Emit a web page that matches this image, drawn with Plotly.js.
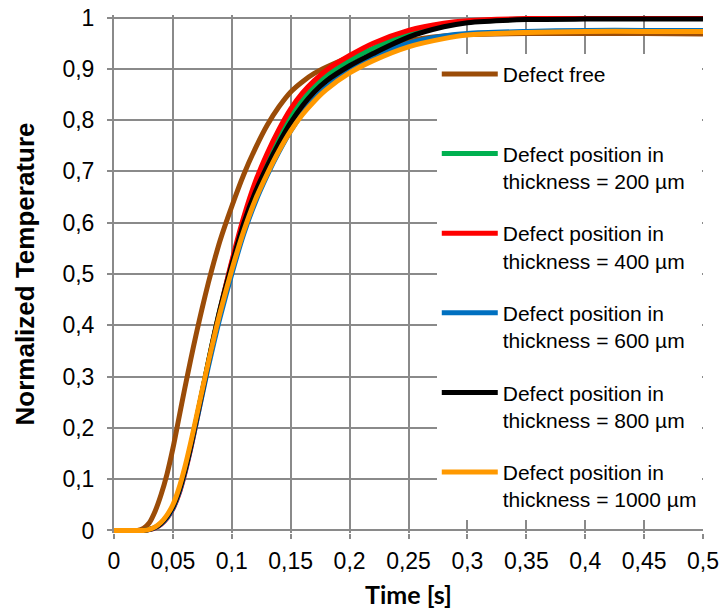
<!DOCTYPE html>
<html>
<head>
<meta charset="utf-8">
<script src="https://cdn.plot.ly/plotly-3.0.1.min.js"></script>
<style>html,body{margin:0;padding:0;background:#fff;}#chart{width:721px;height:613px;}</style>
</head>
<body>
<div id="chart"></div>
<script>
const time = [0, 0.01, 0.02, 0.025, 0.03, 0.035, 0.04, 0.045, 0.05, 0.055, 0.06, 0.065, 0.07, 0.075, 0.08, 0.085, 0.09, 0.1, 0.11, 0.12, 0.13, 0.14, 0.15, 0.16, 0.17, 0.18, 0.2, 0.22, 0.25, 0.28, 0.3, 0.35, 0.4, 0.45, 0.5];

const defectFree = [0, 0, 0, 0.004, 0.015, 0.038, 0.07, 0.11, 0.16, 0.218, 0.276, 0.332, 0.385, 0.435, 0.482, 0.525, 0.565, 0.632, 0.693, 0.745, 0.79, 0.826, 0.855, 0.875, 0.891, 0.903, 0.923, 0.938, 0.955, 0.964, 0.967, 0.969, 0.969, 0.969, 0.968];
const defect200 = [0, 0, 0, 0, 0.002, 0.006, 0.014, 0.027, 0.045, 0.074, 0.114, 0.162, 0.216, 0.272, 0.328, 0.382, 0.432, 0.522, 0.603, 0.668, 0.72, 0.766, 0.806, 0.839, 0.865, 0.886, 0.916, 0.94, 0.968, 0.986, 0.992, 0.997, 0.998, 0.998, 0.998];
const defect400 = [0, 0, 0, 0, 0.0015, 0.005, 0.012, 0.024, 0.042, 0.07, 0.11, 0.158, 0.212, 0.268, 0.325, 0.38, 0.43, 0.525, 0.61, 0.68, 0.735, 0.782, 0.822, 0.853, 0.877, 0.897, 0.926, 0.95, 0.975, 0.989, 0.994, 0.998, 0.998, 0.998, 0.998];
const defect600 = [0, 0, 0, 0, 0.0015, 0.005, 0.013, 0.025, 0.043, 0.072, 0.112, 0.16, 0.212, 0.265, 0.318, 0.368, 0.415, 0.5, 0.577, 0.64, 0.692, 0.738, 0.779, 0.813, 0.841, 0.864, 0.898, 0.922, 0.95, 0.964, 0.969, 0.973, 0.975, 0.975, 0.975];
const defect800 = [0, 0, 0, 0, 0.002, 0.006, 0.014, 0.027, 0.046, 0.075, 0.115, 0.163, 0.217, 0.272, 0.327, 0.38, 0.43, 0.518, 0.598, 0.66, 0.71, 0.755, 0.795, 0.828, 0.855, 0.876, 0.906, 0.93, 0.962, 0.982, 0.99, 0.996, 0.997, 0.997, 0.997];
const defect1000 = [0, 0, 0, 0, 0.002, 0.007, 0.016, 0.03, 0.05, 0.081, 0.122, 0.17, 0.222, 0.275, 0.327, 0.377, 0.424, 0.508, 0.583, 0.645, 0.695, 0.74, 0.779, 0.811, 0.837, 0.859, 0.892, 0.916, 0.943, 0.959, 0.966, 0.971, 0.973, 0.973, 0.973];

const seriesNames = [
  'Defect free',
  'Defect position in<br>thickness = 200 µm',
  'Defect position in<br>thickness = 400 µm',
  'Defect position in<br>thickness = 600 µm',
  'Defect position in<br>thickness = 800 µm',
  'Defect position in<br>thickness = 1000 µm'
];
const seriesColors = ['#9B4C08', '#00B050', '#FF0000', '#0070C0', '#000000', '#FF9900'];

const xTickVals = [0, 0.05, 0.1, 0.15, 0.2, 0.25, 0.3, 0.35, 0.4, 0.45, 0.5];
const xTickText = ['0', '0,05', '0,1', '0,15', '0,2', '0,25', '0,3', '0,35', '0,4', '0,45', '0,5'];
const yTickVals = [0, 0.1, 0.2, 0.3, 0.4, 0.5, 0.6, 0.7, 0.8, 0.9, 1];
const yTickText = ['0', '0,1', '0,2', '0,3', '0,4', '0,5', '0,6', '0,7', '0,8', '0,9', '1'];

const seriesValues = [defectFree, defect200, defect400, defect600, defect800, defect1000];

const traces = seriesValues.map((vals, i) => ({
  type: 'scatter',
  mode: 'lines',
  x: time,
  y: vals,
  name: i === 0 ? seriesNames[i] + '<br>\u00a0' : seriesNames[i],
  legendgroup: 'g' + i,
  line: {color: seriesColors[i], width: 5, shape: 'spline', smoothing: 0.8},
  hoverinfo: 'skip'
}));

const gridColor = '#8a8a8a';
const layout = {
  width: 721,
  height: 613,
  margin: {l: 114, r: 18, t: 15, b: 80},
  paper_bgcolor: '#ffffff',
  plot_bgcolor: '#ffffff',
  font: {family: '"Liberation Sans", Arial, sans-serif', size: 21, color: '#000000'},
  showlegend: true,
  xaxis: {
    range: [0, 0.5],
    tickmode: 'array',
    tickvals: xTickVals,
    ticktext: xTickText,
    showgrid: true,
    gridcolor: gridColor,
    gridwidth: 2,
    zeroline: false,
    showline: false,
    ticks: 'outside',
    ticklen: 5,
    tickwidth: 2,
    tickcolor: gridColor,
    ticklabelstandoff: 2,
    tickfont: {size: 23},
    title: {text: 'Time [s]', font: {family: 'Lato, "Open Sans", sans-serif', size: 25, weight: 'bold'}, standoff: 13}
  },
  yaxis: {
    range: [-0.005, 1.005],
    tickmode: 'array',
    tickvals: yTickVals,
    ticktext: yTickText,
    showgrid: true,
    gridcolor: gridColor,
    gridwidth: 2,
    zeroline: false,
    showline: true,
    linecolor: gridColor,
    linewidth: 2,
    ticks: 'outside',
    ticklen: 5,
    tickwidth: 2,
    tickcolor: gridColor,
    ticklabelstandoff: 8,
    tickfont: {size: 23},
    title: {text: 'Normalized Temperature', font: {family: '"Liberation Sans", Arial, sans-serif', size: 26, weight: 'bold'}, standoff: 20}
  },
  legend: {
    x: 0.548,
    y: 0.925,
    xanchor: 'left',
    yanchor: 'top',
    bgcolor: '#ffffff',
    borderwidth: 0,
    font: {size: 21, color: '#000000'},
    tracegroupgap: 22,
    valign: 'top',
    itemwidth: 56
  }
};

Plotly.newPlot('chart', traces, layout, {staticPlot: true, displayModeBar: false});
</script>
</body>
</html>
